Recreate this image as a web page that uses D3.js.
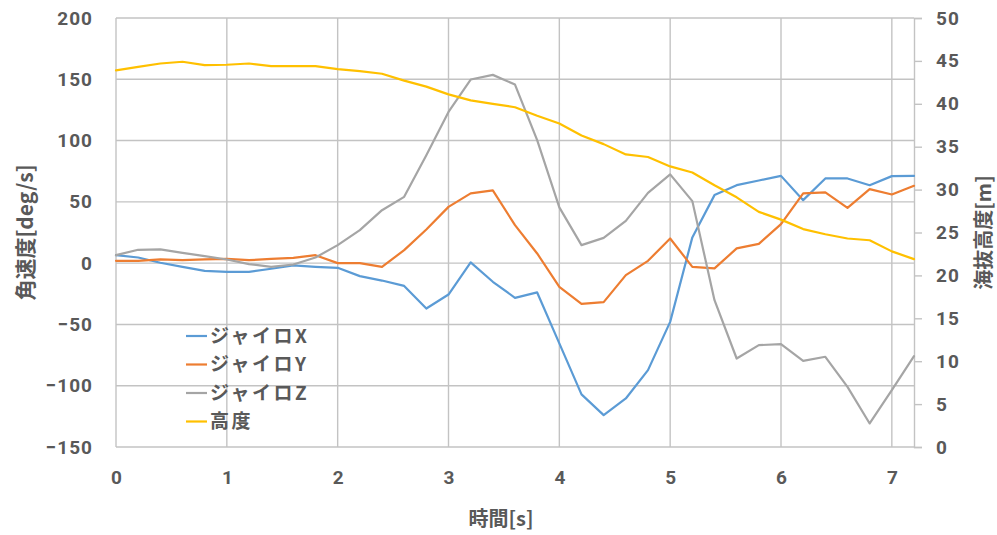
<!DOCTYPE html>
<html>
<head>
<meta charset="utf-8">
<script src="https://cdn.jsdelivr.net/npm/d3@7"></script>
<style>
  html, body { margin: 0; padding: 0; background: #fff; }
  svg { display: block; }
  text { fill: #595959; }
</style>
</head>
<body>
<svg id="chart" width="997" height="535"></svg>
<script>
// Sample times [s], every 0.2 s
const times = [0, 0.2, 0.4, 0.6, 0.8, 1.0, 1.2, 1.4, 1.6, 1.8, 2.0, 2.2, 2.4, 2.6, 2.8,
  3.0, 3.2, 3.4, 3.6, 3.8, 4.0, 4.2, 4.4, 4.6, 4.8, 5.0, 5.2, 5.4, 5.6, 5.8, 6.0,
  6.2, 6.4, 6.6, 6.8, 7.0, 7.2];

// Angular velocity [deg/s]
const gyroX = [6.5, 4.6, 0.3, -3, -6.3, -7.1, -7.1, -4.6, -1.9, -3.0, -3.8, -10.6, -14.2,
  -18.6, -37, -25.6, 0.6, -15.2, -28.3, -23.9, -65.5, -107.1, -124, -110.4, -87.3,
  -47.9, 21, 55.5, 63.6, 67.4, 71.2, 51.4, 69.1, 69.1, 63.6, 71, 71.2];
const gyroY = [1.9, 1.9, 3, 2.4, 3, 3.5, 2.4, 3.5, 4.3, 6.5, 0, 0, -3, 10.6, 27.5, 45.9,
  56.9, 59.3, 31, 7.9, -19.3, -33.2, -31.8, -9.8, 1.9, 20.1, -3, -4.3, 12, 15.7, 31.8,
  56.9, 57.7, 45.1, 60.4, 56, 63.1];
const gyroZ = [6.5, 10.9, 11.2, 8.4, 5.7, 3.0, -0.8, -3, -1.1, 4.6, 14.7, 26.9, 43.2,
  54.1, 88.1, 123.4, 149.8, 153.6, 145.7, 100.3, 45.5, 14.7, 20.6, 34.5, 57.3, 72.4,
  50.6, -30.2, -77.8, -66.9, -66, -79.7, -76.4, -100.9, -130.8, -103.6, -75.9];

// Altitude above sea level [m]
const altitude = [43.9, 44.3, 44.7, 44.9, 44.5, 44.55, 44.7, 44.4, 44.4, 44.4, 44.05,
  43.8, 43.5, 42.7, 42.0, 41.1, 40.4, 40.0, 39.6, 38.6, 37.7, 36.3, 35.3, 34.1, 33.8,
  32.7, 32.0, 30.5, 29.1, 27.4, 26.5, 25.4, 24.8, 24.3, 24.1, 22.8, 21.9];

const seriesNames = ["ジャイロX", "ジャイロY", "ジャイロZ", "高度"];
const seriesColors = ["#5b9bd5", "#ed7d31", "#a5a5a5", "#ffc000"];

const xTicks = [0, 1, 2, 3, 4, 5, 6, 7];
const yLeftTicks = [-150, -100, -50, 0, 50, 100, 150, 200];
const yRightTicks = [0, 5, 10, 15, 20, 25, 30, 35, 40, 45, 50];

const xTitle = "時間[s]";
const yLeftTitle = "角速度[deg/s]";
const yRightTitle = "海抜高度[m]";

// Layout
const plot = { left: 116, right: 914, top: 18, bottom: 447 };
const svg = d3.select("#chart");

const x = d3.scaleLinear().domain([0, 7.2]).range([plot.left, plot.right]);
const yL = d3.scaleLinear().domain([-150, 200]).range([plot.bottom, plot.top]);
const yR = d3.scaleLinear().domain([0, 50]).range([plot.bottom, plot.top]);

const numFont = "Roboto, 'Noto Sans CJK JP', sans-serif";
const cjkFont = "'Noto Sans CJK JP', sans-serif";
const gridColor = "#c3c3c3";

// Gridlines
const grid = svg.append("g");
grid.selectAll("line.h").data(yLeftTicks).join("line")
  .attr("x1", plot.left).attr("x2", plot.right)
  .attr("y1", d => yL(d)).attr("y2", d => yL(d))
  .attr("stroke", gridColor).attr("stroke-width", 1.4);
grid.selectAll("line.v").data(xTicks).join("line")
  .attr("x1", d => x(d)).attr("x2", d => x(d))
  .attr("y1", plot.top).attr("y2", plot.bottom)
  .attr("stroke", gridColor).attr("stroke-width", 1.4);

// Right (secondary) axis
const rightAxis = d3.axisRight(yR).tickValues(yRightTicks).tickSize(8).tickPadding(14);
const gR = svg.append("g").attr("transform", `translate(${plot.right},0)`).call(rightAxis);
gR.select(".domain").attr("stroke", gridColor).attr("stroke-width", 1.4);
gR.selectAll(".tick line").attr("stroke", gridColor).attr("stroke-width", 1.4);
gR.selectAll(".tick text")
  .attr("fill", "#595959").style("font-family", numFont).style("font-size", "19px")
  .style("font-weight", "bold").style("letter-spacing", "1px");

// Left axis (labels only)
const leftAxis = d3.axisLeft(yL).tickValues(yLeftTicks).tickSize(0).tickPadding(23);
const gL = svg.append("g").attr("transform", `translate(${plot.left},0)`).call(leftAxis);
gL.select(".domain").remove();
gL.selectAll(".tick text")
  .attr("fill", "#595959").style("font-family", numFont).style("font-size", "19px")
  .style("font-weight", "bold").style("letter-spacing", "1px");

// Bottom axis (labels only)
const bottomAxis = d3.axisBottom(x).tickValues(xTicks).tickSize(0).tickPadding(24);
const gB = svg.append("g").attr("transform", `translate(0,${plot.bottom})`).call(bottomAxis);
gB.select(".domain").remove();
gB.selectAll(".tick text")
  .attr("fill", "#595959").style("font-family", numFont).style("font-size", "19px")
  .style("font-weight", "bold");

// Series lines
const lineL = d3.line().x((d, i) => x(times[i])).y(d => yL(d));
const lineR = d3.line().x((d, i) => x(times[i])).y(d => yR(d));
const lines = svg.append("g").attr("fill", "none").attr("stroke-width", 2.2)
  .attr("stroke-linejoin", "round").attr("stroke-linecap", "round");
[gyroX, gyroY, gyroZ].forEach((s, i) => {
  lines.append("path").datum(s).attr("d", lineL).attr("stroke", seriesColors[i]);
});
lines.append("path").datum(altitude).attr("d", lineR).attr("stroke", seriesColors[3]);

// Axis titles
svg.append("text")
  .attr("transform", `translate(33,${(plot.top + plot.bottom) / 2}) rotate(-90)`)
  .attr("text-anchor", "middle")
  .style("font-family", cjkFont).style("font-size", "21px").style("font-weight", "bold")
  .text(yLeftTitle);
svg.append("text")
  .attr("transform", `translate(991,${(plot.top + plot.bottom) / 2}) rotate(-90)`)
  .attr("text-anchor", "middle")
  .style("font-family", cjkFont).style("font-size", "20px").style("font-weight", "bold")
  .text(yRightTitle);
svg.append("text")
  .attr("x", 501).attr("y", 526)
  .attr("text-anchor", "middle")
  .style("font-family", cjkFont).style("font-size", "20px").style("font-weight", "bold")
  .text(xTitle);

// Legend
const legend = svg.append("g").attr("transform", "translate(186,336)");
seriesNames.forEach((name, i) => {
  const row = legend.append("g").attr("transform", `translate(0,${i * 28.5})`);
  row.append("line").attr("x1", 0).attr("x2", 21).attr("y1", 0).attr("y2", 0)
    .attr("stroke", seriesColors[i]).attr("stroke-width", 2.2);
  row.append("text").attr("x", 24).attr("y", 0).attr("dy", "0.36em")
    .style("font-family", cjkFont).style("font-size", "19px").style("font-weight", "bold")
    .style("letter-spacing", "2.5px")
    .text(name);
});
</script>
</body>
</html>
